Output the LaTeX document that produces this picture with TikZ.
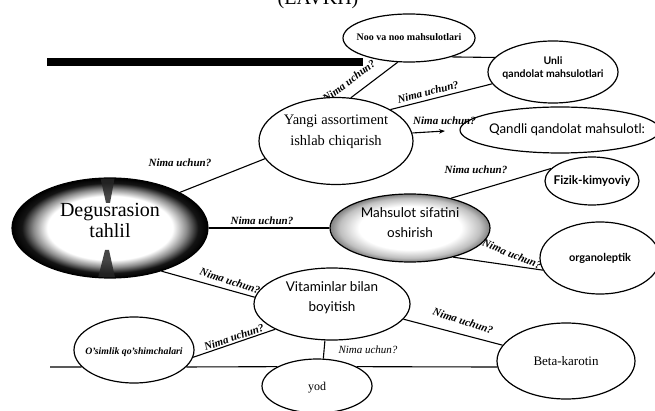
\documentclass[tikz,border=0pt]{standalone}
\usepackage{fontspec}
\setmainfont{Liberation Serif}
\newfontfamily\sansf{Lato}
\usetikzlibrary{shapes.geometric,arrows.meta}
\pgfdeclareradialshading{degshade}{\pgfpoint{0bp}{0bp}}{color(0bp)=(white); color(16bp)=(white); color(19.5bp)=(black!45); color(22.5bp)=(black!92); color(25bp)=(black); color(50bp)=(black)}
\pgfdeclareradialshading{mahsshade}{\pgfpoint{0bp}{0bp}}{color(0bp)=(white); color(16bp)=(white); color(22bp)=(black!25); color(25bp)=(black!50); color(50bp)=(black!50)}
\begin{document}
\begin{tikzpicture}[x=1pt,y=-1pt,
  bub/.style={ellipse, draw, line width=1.2pt, fill=white, inner sep=0pt},
  conn/.style={line width=1.1pt},
  why/.style={font=\fontsize{11}{12}\selectfont\bfseries\itshape, inner sep=0pt},
  serifl/.style={align=center, inner sep=0pt},
  sansl/.style={align=center, inner sep=0pt},
]
\useasboundingbox (0,0) rectangle (655,411);
\clip (0,0) rectangle (655,411);

% title (cut off at top)
\node[anchor=base, inner sep=0pt, font=\fontsize{20}{22}\selectfont] (title) at (318,4.5) {(EAVKH)};
% black bar
\fill (47,58.5) rectangle (363,66.5);

% question labels (drawn first, ellipses lie over them)
\node[why, rotate=37] (w1) at (349,81) {Nima uchun?};
\node[why, rotate=14] (w2) at (428,92) {Nima uchun?};
\node[why] (w4) at (180,163) {Nima uchun?};
\node[why] (w5) at (262,221) {Nima uchun?};
\node[why] (w6) at (476,170) {Nima uchun?};
\node[why, rotate=-22] (w7) at (512,254) {Nima uchun?};
\node[why, rotate=-18] (w8) at (230,281) {Nima uchun?};
\node[why, rotate=19] (w9) at (234,337) {Nima uchun?};
\node[inner sep=0pt, font=\fontsize{11}{12}\selectfont\itshape] (w10) at (368,350) {Nima uchun?};
\node[why, rotate=-18] (w11) at (463,321) {Nima uchun?};

% Degusrasion shading
\shade[shading=degshade] (110,228) ellipse [x radius=98, y radius=50];
\begin{scope}
  \clip (110,228) ellipse [x radius=98, y radius=50];
  \fill[black!85, opacity=0.85] (100,176) -- (115,176) -- (110,203) -- (106,203) -- cycle;
  \fill[black!85, opacity=0.85] (105,250) -- (109,250) -- (116,282) -- (97,282) -- cycle;
\end{scope}

% nodes
\node[bub, fill=none, minimum width=196pt, minimum height=100pt,
  label={[serifl, yshift=8pt, font=\fontsize{20}{21}\selectfont]center:Degusrasion\\tahlil}] (deg) at (110,228) {};
\node[bub, minimum width=154pt, minimum height=87pt,
  label={[serifl, yshift=9pt, font=\fontsize{14.5}{21}\selectfont]center:Yangi assortiment\\ishlab chiqarish}] (yangi) at (336,141) {};
\node[bub, minimum width=132pt, minimum height=48pt,
  label={[serifl, yshift=1pt, font=\fontsize{10}{12}\selectfont\bfseries]center:Noo va noo mahsulotlari}] (noo) at (409,38) {};
\node[bub, minimum width=130pt, minimum height=62pt,
  label={[sansl, yshift=4pt, font=\sansf\fontsize{10.5}{13}\selectfont\bfseries]center:Unli\\qandolat mahsulotlari}] (unli) at (553,72) {};
\node[bub, minimum width=200pt, minimum height=46pt,
  label={[sansl, xshift=7pt, font=\sansf\fontsize{13.3}{15}\selectfont]center:Qandli qandolat mahsulotl:}] (qandli) at (560,130) {};
\coordinate (qtip) at (445,131);
\node[bub, minimum width=94pt, minimum height=48pt,
  label={[sansl, font=\sansf\fontsize{12}{14}\selectfont\bfseries]center:Fizik-kimyoviy}] (fizik) at (592,181) {};
\node[bub, shade, shading=mahsshade, minimum width=160pt, minimum height=68pt,
  label={[sansl, yshift=5pt, font=\sansf\fontsize{13.5}{20}\selectfont]center:Mahsulot sifatini\\oshirish}] (mahs) at (410,228) {};
\node[bub, minimum width=120pt, minimum height=72pt,
  label={[sansl, font=\sansf\fontsize{11}{13}\selectfont\bfseries]center:organoleptik}] (organ) at (600,258) {};
\node[bub, minimum width=156pt, minimum height=72pt,
  label={[sansl, yshift=6pt, font=\sansf\fontsize{13.5}{20}\selectfont]center:Vitaminlar bilan\\boyitish}] (vit) at (332,304) {};
\node[bub, minimum width=120pt, minimum height=66pt,
  label={[serifl, yshift=-2pt, font=\fontsize{9.8}{11}\selectfont\bfseries\itshape]center:O'simlik qo'shimchalari}] (osim) at (134,350) {};
\node[bub, minimum width=110pt, minimum height=54pt,
  label={[serifl, yshift=-2pt, font=\fontsize{12}{13}\selectfont]center:yod}] (yod) at (317,386) {};
\node[bub, minimum width=138pt, minimum height=76pt,
  label={[serifl, font=\fontsize{13}{15}\selectfont]center:Beta-karotin}] (beta) at (566,361) {};
\coordinate (lstart) at (50,367);

% label over the Qandli ellipse edge
\node[why, anchor=west] (w3) at (413,121) {Nima uchun?};

% connectors
\draw[conn] (deg.27) -- (yangi.194);
\draw[conn] (deg.east) -- (mahs.west);
\draw[conn] (deg.-40) -- (vit.175);
\draw[conn] (yangi.71) -- (noo.245);
\draw[conn] (yangi.30) -- (unli.191);
\draw[conn] (noo.-24) -- (unli.166);
\draw[conn, -{Stealth[length=6pt,width=4.5pt]}] (yangi.6) -- (qtip);
\draw[conn] (mahs.36) -- (fizik.163);
\draw[conn] (mahs.-34) -- (organ.192);
\draw[conn] (vit.204) -- (osim.-7);
\draw[conn] (vit.259) -- (yod.77);
\draw[conn] (vit.-12) -- (beta.166);
\draw[conn] (lstart) -- (osim.198);
\draw[conn] (osim.-18) -- (yod.154);
\draw[conn] (yod.26) -- (beta.185);
\end{tikzpicture}
\end{document}
